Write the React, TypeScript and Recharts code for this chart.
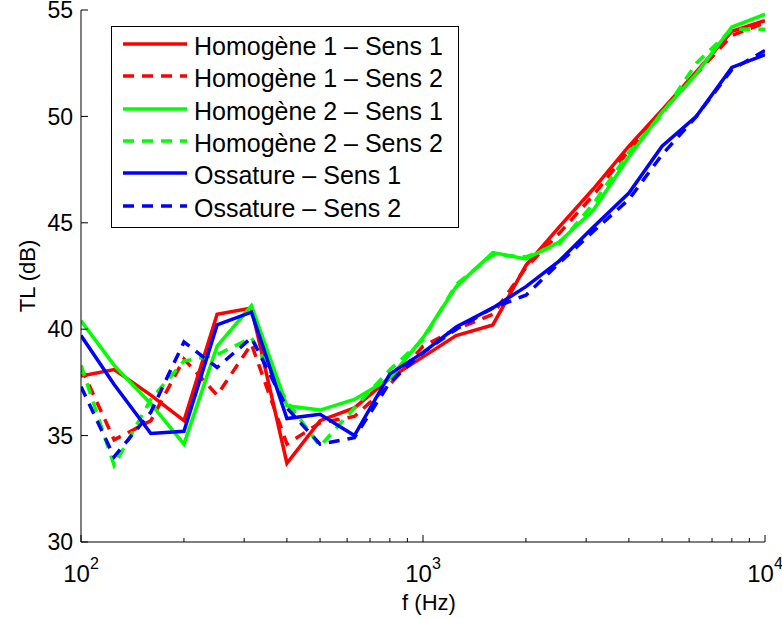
import React from "react";
import { LineChart, Line, XAxis, YAxis, Legend } from "recharts";

// third-octave band centre frequencies (Hz)
const FREQS = [100, 125, 160, 200, 250, 315, 400, 500, 630, 800, 1000, 1250, 1600, 2000, 2500, 3150, 4000, 5000, 6300, 8000, 10000];

// transmission loss (dB)
const H1_S1 = [37.8, 38.1, 36.9, 35.7, 40.7, 41.0, 33.7, 35.7, 36.3, 37.7, 38.7, 39.7, 40.2, 43.0, 44.8, 46.6, 48.6, 50.3, 52.1, 54.0, 54.5];
const H1_S2 = [38.2, 34.8, 35.7, 38.6, 36.9, 39.3, 34.6, 35.6, 35.9, 37.4, 39.2, 40.0, 40.7, 42.9, 44.5, 46.3, 48.4, 50.2, 52.0, 53.8, 54.4];
const H2_S1 = [40.4, 38.3, 36.5, 34.6, 39.2, 41.1, 36.4, 36.2, 36.7, 37.7, 39.6, 42.0, 43.6, 43.3, 44.1, 45.6, 48.1, 50.2, 52.0, 54.2, 54.8];
const H2_S2 = [38.3, 33.6, 36.7, 38.5, 38.8, 39.6, 36.6, 34.5, 36.3, 38.1, 39.5, 42.1, 43.5, 43.4, 44.0, 45.9, 48.3, 50.1, 52.5, 54.1, 54.1];
const OS_S1 = [39.7, 37.4, 35.1, 35.2, 40.2, 40.8, 35.8, 36.0, 35.0, 37.9, 38.9, 40.1, 41.0, 42.0, 43.2, 44.8, 46.4, 48.6, 50.0, 52.3, 52.9];
const OS_S2 = [37.3, 34.0, 36.1, 39.4, 38.2, 39.6, 36.3, 34.6, 34.9, 37.5, 38.9, 40.0, 41.0, 41.6, 43.1, 44.6, 46.1, 48.2, 50.0, 52.2, 53.1];

const Y_TICKS = [30, 35, 40, 45, 50, 55];
const X_TICKS = [100, 200, 300, 400, 500, 600, 700, 800, 900, 1000, 2000, 3000, 4000, 5000, 6000, 7000, 8000, 9000, 10000];

const SERIES = [
  { key: "h1s1", name: "Homogène 1 – Sens 1", color: "#ff0000", dashed: false, values: H1_S1 },
  { key: "h1s2", name: "Homogène 1 – Sens 2", color: "#ff0000", dashed: true, values: H1_S2 },
  { key: "h2s1", name: "Homogène 2 – Sens 1", color: "#00ff00", dashed: false, values: H2_S1 },
  { key: "h2s2", name: "Homogène 2 – Sens 2", color: "#00ff00", dashed: true, values: H2_S2 },
  { key: "os1", name: "Ossature – Sens 1", color: "#0000ff", dashed: false, values: OS_S1 },
  { key: "os2", name: "Ossature – Sens 2", color: "#0000ff", dashed: true, values: OS_S2 },
];

const data = FREQS.map((f, i) => {
  const row: any = { f };
  SERIES.forEach((s) => (row[s.key] = s.values[i]));
  return row;
});

const FONT = "'Liberation Sans', Arial, Helvetica, sans-serif";
const DASH = "11 8";

const isDecade = (v: number) => Math.abs(Math.log10(v) - Math.round(Math.log10(v))) < 1e-9;

const BottomTick = (props: any) => {
  const { x, y, payload } = props;
  const major = isDecade(payload.value);
  return (
    <g>
      <line x1={x} x2={x} y1={y} y2={y - (major ? 7 : 4)} stroke="#000" />
      {major && (
        <text x={x} y={y + 40} textAnchor="middle" fontSize={24} fontFamily={FONT} fill="#000">
          10
          <tspan dy={-13} fontSize={16}>
            {Math.round(Math.log10(payload.value))}
          </tspan>
        </text>
      )}
    </g>
  );
};

const TopTick = (props: any) => {
  const { x, y, payload } = props;
  const major = isDecade(payload.value);
  return <line x1={x} x2={x} y1={y} y2={y + (major ? 7 : 4)} stroke="#000" />;
};

const LeftTick = (props: any) => {
  const { x, y, payload } = props;
  return (
    <g>
      <line x1={x} x2={x + 7} y1={y} y2={y} stroke="#000" />
      <text x={x - 8} y={y} dy="0.36em" textAnchor="end" fontSize={23} fontFamily={FONT} fill="#000">
        {payload.value}
      </text>
    </g>
  );
};

const RightTick = (props: any) => {
  const { x, y } = props;
  return <line x1={x} x2={x - 7} y1={y} y2={y} stroke="#000" />;
};

const YTitle = (props: any) => {
  const vb = props.viewBox;
  const cx = vb.x + 27;
  const cy = vb.y + vb.height / 2;
  return (
    <text x={cx} y={cy} transform={`rotate(-90 ${cx} ${cy})`} textAnchor="middle" dy="0.36em" fontSize={22} fontFamily={FONT} fill="#000">
      TL (dB)
    </text>
  );
};

const XTitle = (props: any) => {
  const vb = props.viewBox;
  return (
    <text x={vb.x + vb.width / 2 + 6} y={vb.y + 68} textAnchor="middle" fontSize={22} fontFamily={FONT} fill="#000">
      f (Hz)
    </text>
  );
};

const LegendBox = () => (
  <div
    style={{
      width: 348,
      height: 202,
      boxSizing: "border-box",
      border: "1.5px solid #000",
      background: "#fff",
      padding: "3px 0 0 11px",
      fontFamily: FONT,
      fontSize: 25,
      color: "#000",
    }}
  >
    {SERIES.map((s) => (
      <div key={s.key} style={{ display: "flex", alignItems: "center", height: 32.3 }}>
        <svg width={64} height={10} style={{ marginRight: 7, flex: "none" }}>
          <line x1={0} x2={64} y1={3} y2={3} stroke={s.color} strokeWidth={3.5} strokeDasharray={s.dashed ? DASH : undefined} />
        </svg>
        <span style={{ whiteSpace: "nowrap", lineHeight: "32px" }}>{s.name}</span>
      </div>
    ))}
  </div>
);

export default function App() {
  return (
    <div style={{ position: "absolute", left: 0, top: 0, width: 782, height: 618, background: "#fff" }}>
      <LineChart width={782} height={618} data={data} margin={{ top: 10, right: 17, bottom: 0, left: 0 }}>
        <XAxis
          dataKey="f"
          type="number"
          scale="log"
          domain={[100, 10000]}
          allowDataOverflow
          ticks={X_TICKS}
          interval={0}
          height={76}
          tickLine={false}
          tickSize={0}
          tickMargin={0}
          tick={<BottomTick />}
          axisLine={{ stroke: "#000" }}
          label={<XTitle />}
        />
        <XAxis
          xAxisId="top"
          orientation="top"
          dataKey="f"
          type="number"
          scale="log"
          domain={[100, 10000]}
          allowDataOverflow
          ticks={X_TICKS}
          interval={0}
          height={0}
          tickLine={false}
          tickSize={0}
          tickMargin={0}
          tick={<TopTick />}
          axisLine={{ stroke: "#000" }}
        />
        <YAxis
          type="number"
          domain={[30, 55]}
          allowDataOverflow
          ticks={Y_TICKS}
          interval={0}
          width={81}
          tickLine={false}
          tickSize={0}
          tickMargin={0}
          tick={<LeftTick />}
          axisLine={{ stroke: "#000" }}
          label={<YTitle />}
        />
        <YAxis
          yAxisId="right"
          orientation="right"
          type="number"
          domain={[30, 55]}
          allowDataOverflow
          ticks={Y_TICKS}
          interval={0}
          width={0}
          tickLine={false}
          tickSize={0}
          tickMargin={0}
          tick={<RightTick />}
          axisLine={{ stroke: "#000" }}
        />
        {SERIES.map((s) => (
          <Line
            key={s.key}
            dataKey={s.key}
            name={s.name}
            type="linear"
            stroke={s.color}
            strokeWidth={3.5}
            strokeDasharray={s.dashed ? DASH : undefined}
            dot={false}
            activeDot={false}
            isAnimationActive={false}
          />
        ))}
        <Legend
          layout="horizontal"
          verticalAlign="middle"
          align="center"
          content={<LegendBox />}
          wrapperStyle={{ left: 111, top: 26, width: 348, height: 202 }}
        />
      </LineChart>
    </div>
  );
}
